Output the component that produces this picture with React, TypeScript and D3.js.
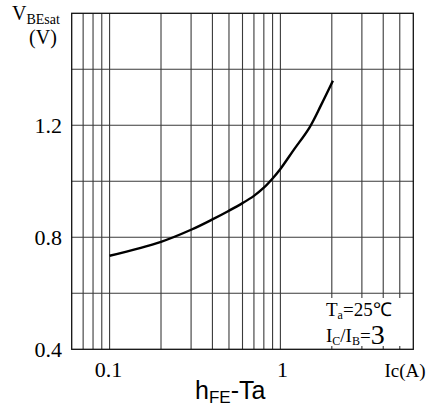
import * as d3 from "d3";

// Ic (A) vs VBE(sat) (V)
const icValues = [0.1, 0.2, 0.3, 0.4, 0.5, 0.6, 0.7, 0.8, 0.9, 1.0, 1.2, 1.48, 1.73, 2.03];
const vbeValues = [0.734, 0.784, 0.827, 0.864, 0.895, 0.922, 0.948, 0.977, 1.01, 1.044, 1.113, 1.192, 1.272, 1.359];

const xGrid = [0.07, 0.08, 0.09, 0.1, 0.2, 0.3, 0.4, 0.5, 0.6, 0.7, 0.8, 0.9, 1, 2, 3, 4, 5];
const yGrid = [0.6, 0.8, 1.0, 1.2, 1.4];
const yTickLabels = [0.4, 0.8, 1.2];
const xTickLabels = [0.1, 1];

const W = 430;
const H = 417;
const serif = "'Liberation Serif', 'Times New Roman', serif";
const sans = "'Liberation Sans', Arial, sans-serif";

export default function App() {
  const x = d3.scaleLog().domain([0.06, 6]).range([71.7, 413.3]);
  const y = d3.scaleLinear().domain([0.4, 1.6]).range([349.3, 13.3]);

  const pts = icValues.map((c, i) => [c, vbeValues[i]] as [number, number]);
  const line = d3
    .line<[number, number]>()
    .x((d) => x(d[0]))
    .y((d) => y(d[1]))
    .curve(d3.curveCatmullRom.alpha(0.5));

  const [x0, x1] = x.range();
  const [y0, y1] = y.range();

  return (
    <svg
      width={W}
      height={H}
      style={{ position: "absolute", left: 0, top: 0, background: "#fff" }}
    >
      {/* grid */}
      {xGrid.map((v) => (
        <line key={"x" + v} x1={x(v)} x2={x(v)} y1={y1} y2={y0} stroke="#3a3a3a" strokeWidth={1.1} />
      ))}
      {yGrid.map((v) => (
        <line key={"y" + v} x1={x0} x2={x1} y1={y(v)} y2={y(v)} stroke="#3a3a3a" strokeWidth={1.1} />
      ))}
      {/* frame */}
      <rect x={x0} y={y1} width={x1 - x0} height={y0 - y1} fill="none" stroke="#111" strokeWidth={1.3} />

      {/* curve */}
      <path d={line(pts) || ""} fill="none" stroke="#000" strokeWidth={2.4} />

      {/* condition box */}
      <rect x={321} y={298} width={90} height={48} fill="#fff" />
      <text x={326} y={315.5} fontFamily={serif} fontSize={19}>
        T<tspan fontSize={12} dy={3}>a</tspan>
        <tspan dy={-3}>=25℃</tspan>
      </text>
      <text x={326} y={342} fontFamily={serif} fontSize={19}>
        I<tspan fontSize={12} dy={3}>C</tspan>
        <tspan dy={-3}>/I</tspan>
        <tspan fontSize={12} dy={3}>B</tspan>
        <tspan dy={-3}>=</tspan>
        <tspan fontSize={28} dy={2}>3</tspan>
      </text>

      {/* y tick labels */}
      {yTickLabels.map((v) => (
        <text key={"yl" + v} x={62} y={y(v) + 8} textAnchor="end" fontFamily={serif} fontSize={22}>
          {v.toFixed(1)}
        </text>
      ))}
      {/* x tick labels */}
      {xTickLabels.map((v) => (
        <text key={"xl" + v} x={x(v) + (v === 1 ? 2 : -1)} y={377} textAnchor="middle" fontFamily={serif} fontSize={22}>
          {String(v)}
        </text>
      ))}
      <text x={405} y={377} textAnchor="middle" fontFamily={serif} fontSize={19}>
        Ic(A)
      </text>

      {/* y axis title */}
      <text x={12} y={20} fontFamily={serif} fontSize={20}>
        V<tspan fontSize={14} dy={4}>BEsat</tspan>
      </text>
      <text x={43} y={44} textAnchor="middle" fontFamily={serif} fontSize={20}>
        (V)
      </text>

      {/* chart title */}
      <text x={195} y={399} fontFamily={sans} fontSize={25}>
        h<tspan fontSize={17} dy={4}>FE</tspan>
        <tspan dy={-4}>-Ta</tspan>
      </text>
    </svg>
  );
}
